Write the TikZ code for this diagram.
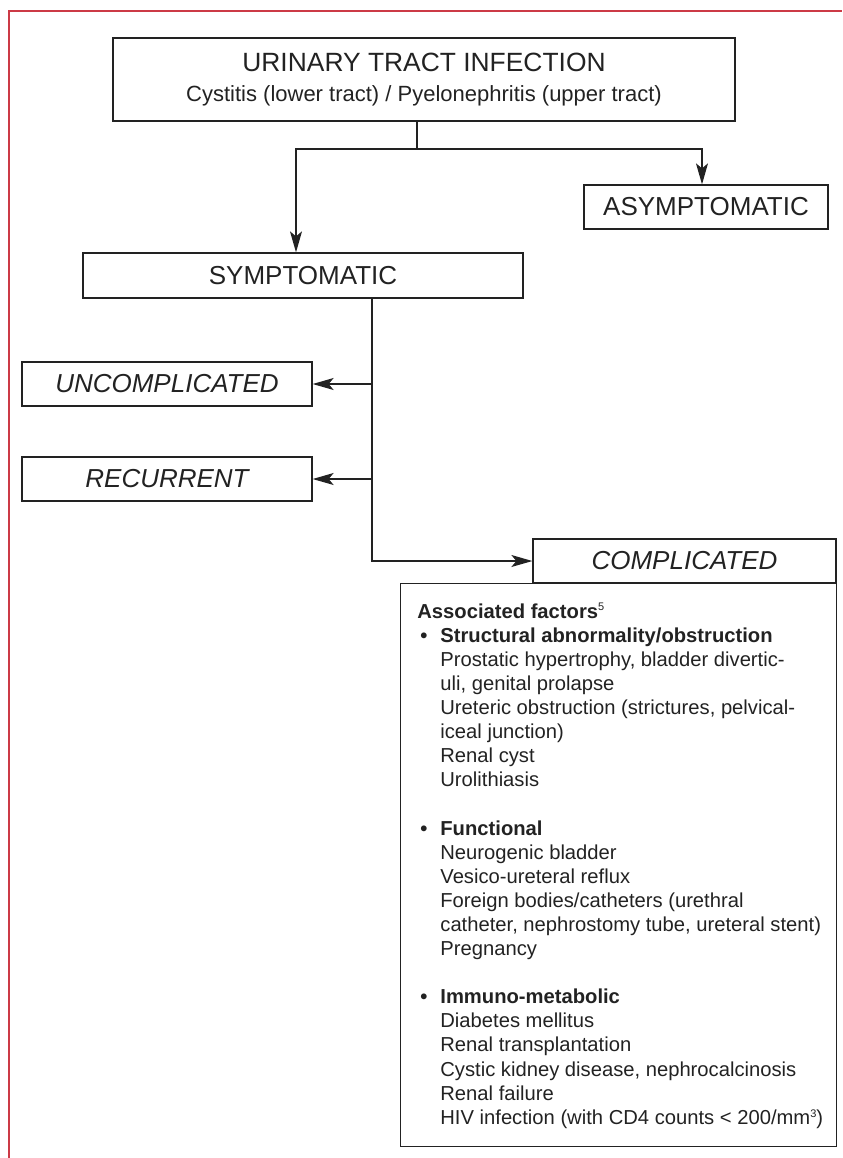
\documentclass[tikz,border=0pt]{standalone}
\usepackage{fontspec}
\setmainfont{Liberation Sans}
\usetikzlibrary{arrows.meta}
\definecolor{framered}{RGB}{204,58,70}
\definecolor{ink}{RGB}{34,34,34}
\newcommand\factbul{\makebox[11.5pt][l]{\hspace{1.5pt}\textbf{\textbullet}}}
\newcommand\factind{\hspace*{11.5pt}}
\newcommand\factsup[1]{\raisebox{3.6pt}{\fontsize{5.5}{6}\selectfont #1}}

\begin{document}
\begin{tikzpicture}[x=0.5pt,y=-0.5pt,
    box/.style={draw=ink,line width=0.65pt,inner sep=0pt,text=ink,font=\fontsize{13}{15}\selectfont},
    casebox/.style={box,font=\fontsize{13}{15}\selectfont\itshape},
    link/.style={draw=ink,line width=0.65pt},
    arr/.style={link,-{Stealth[length=10.5pt,width=6pt,inset=2.5pt]}}]
   \useasboundingbox (0,0) rectangle (842,1158);
   \draw[framered,line width=0.8pt] (9,1158) -- (9,11) -- (842,11);
   % boxes
   \node[box,align=center,minimum width=311pt,minimum height=41.5pt] (uti) at (424,79.5)
      {\fontsize{13.2}{13}\selectfont URINARY TRACT INFECTION\\
       \fontsize{11}{13}\selectfont Cystitis (lower tract) / Pyelonephritis (upper tract)};
   \node[box,minimum width=122pt,minimum height=22pt] (asym) at (706,207) {ASYMPTOMATIC};
   \node[box,minimum width=220pt,minimum height=22.5pt] (sym) at (303,275.5) {SYMPTOMATIC};
   \node[casebox,minimum width=145pt,minimum height=22pt] (uncompl) at (167,384) {UNCOMPLICATED};
   \node[casebox,minimum width=145pt,minimum height=22pt] (recur) at (167,479) {RECURRENT};
   \node[casebox,minimum width=151.5pt,minimum height=22pt] (compl) at (684.5,561) {COMPLICATED};
   \node[box,anchor=north west,minimum width=218pt,minimum height=281.5pt] (factors) at (400,583) {};
   \node[anchor=north west,inner sep=0pt,align=left,text=ink,font=\fontsize{10.1}{12.05}\selectfont]
      (factlist) at ([shift={(17,20)}]factors.north west)
      {\textbf{Associated factors}\factsup{5}\\
       \factbul\textbf{Structural abnormality/obstruction}\\
       \factind Prostatic hypertrophy, bladder divertic-\\
       \factind uli, genital prolapse\\
       \factind Ureteric obstruction (strictures, pelvical-\\
       \factind iceal junction)\\
       \factind Renal cyst\\
       \factind Urolithiasis\\[12.05pt]
       \factbul\textbf{Functional}\\
       \factind Neurogenic bladder\\
       \factind Vesico-ureteral reflux\\
       \factind Foreign bodies/catheters (urethral\\
       \factind catheter, nephrostomy tube, ureteral stent)\\
       \factind Pregnancy\\[12.05pt]
       \factbul\textbf{Immuno-metabolic}\\
       \factind Diabetes mellitus\\
       \factind Renal transplantation\\
       \factind Cystic kidney disease, nephrocalcinosis\\
       \factind Renal failure\\
       \factind HIV infection (with CD4 counts < 200/mm\factsup{3})};
   % connectors
   \coordinate (split) at (417,149);
   \path (sym.south) ++(69,0) coordinate (spine);
   \draw[link] (uti.south -| split) -- (split);
   \draw[arr] (split) -| ([xshift=-3.5pt]sym.north);
   \draw[arr] (split) -| ([xshift=-2pt]asym.north);
   \draw[arr] (spine) |- (compl.west);
   \draw[arr] (spine |- uncompl.east) -- (uncompl.east);
   \draw[arr] (spine |- recur.east) -- (recur.east);
\end{tikzpicture}
\end{document}
